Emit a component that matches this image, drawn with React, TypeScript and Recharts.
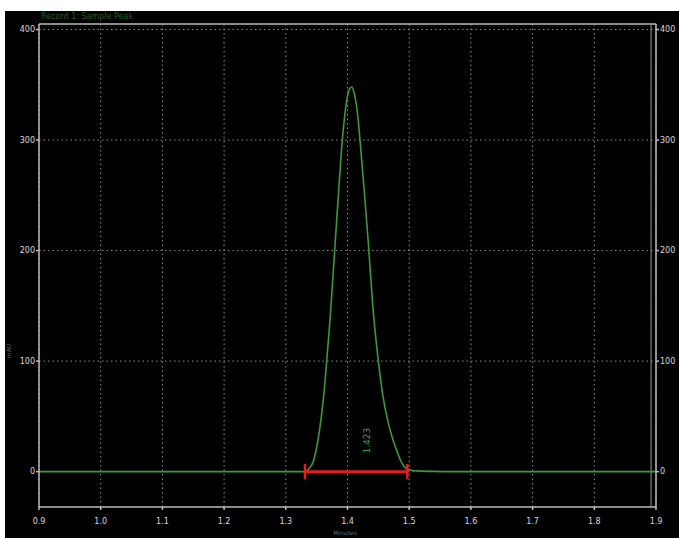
import React from 'react';
import {
  LineChart,
  Line,
  XAxis,
  YAxis,
  CartesianGrid,
  ReferenceLine,
  ReferenceDot,
} from 'recharts';

// retention time (min) and detector response
const times = [
  0.9, 1.1, 1.3, 1.331, 1.338, 1.345, 1.351, 1.357, 1.362, 1.3663, 1.372, 1.378,
  1.384, 1.3916, 1.398, 1.403, 1.4068, 1.411, 1.416, 1.4203, 1.427, 1.434, 1.441,
  1.45, 1.457, 1.4657, 1.473, 1.4798, 1.488, 1.498, 1.52, 1.6, 1.9,
];
const response = [
  0, 0, 0, 0, 3, 10, 25, 47, 72, 100, 140, 190, 240, 300, 333, 346, 348, 342, 325,
  300, 255, 205, 150, 100, 70, 45, 30, 19, 8, 2, 0.5, 0, 0,
];
const xTicks = [0.9, 1.0, 1.1, 1.2, 1.3, 1.4, 1.5, 1.6, 1.7, 1.8, 1.9];
const yTicks = [0, 100, 200, 300, 400];

// integration window for the peak
const peakStart = 1.331;
const peakEnd = 1.497;
const peakLabel = '1.423';

const data = times.map((t, i) => ({ t, v: response[i] }));

const tickStyle = { fill: '#d8d8d8', fontSize: 8, fontFamily: 'DejaVu Sans' };

export default function App() {
  return (
    <div
      style={{
        position: 'fixed',
        left: 0,
        top: 0,
        width: 679,
        height: 538,
        background: '#fff',
      }}
    >
      <div
        style={{
          position: 'absolute',
          left: 5,
          top: 11,
          width: 674,
          height: 527,
          background: '#000',
        }}
      >
        <LineChart
          width={674}
          height={527}
          data={data}
          margin={{ top: 13, right: 0, bottom: 0, left: 0 }}
        >
          <text x={36} y={8} fill="#1e5e1e" fontSize={8} fontFamily="DejaVu Sans">
            Record 1: Sample Peak
          </text>
          <text
            x={6}
            y={340}
            fill="#666"
            fontSize={6}
            fontFamily="DejaVu Sans"
            transform="rotate(-90 6 340)"
            textAnchor="middle"
          >
            mAU
          </text>
          <text x={340} y={524} fill="#666" fontSize={6} fontFamily="DejaVu Sans" textAnchor="middle">
            Minutes
          </text>
          <CartesianGrid
            yAxisId="left"
            stroke="#8a8a8a"
            strokeDasharray="1.5 3"
            horizontalValues={yTicks}
            verticalValues={xTicks}
          />
          <XAxis
            dataKey="t"
            type="number"
            domain={[0.9, 1.9]}
            ticks={xTicks}
            tickFormatter={(v: number) => v.toFixed(1)}
            height={31}
            stroke="#bbbbbb"
            strokeWidth={1.5}
            tickSize={3}
            tickMargin={8}
            tick={tickStyle}
            interval={0}
          />
          <YAxis
            yAxisId="left"
            type="number"
            domain={[-32, 405]}
            ticks={yTicks}
            allowDataOverflow
            width={34}
            stroke="#bbbbbb"
            strokeWidth={1.5}
            tickSize={3}
            tickMargin={1}
            tick={tickStyle}
          />
          <YAxis
            yAxisId="right"
            orientation="right"
            type="number"
            domain={[-32, 405]}
            ticks={yTicks}
            allowDataOverflow
            width={23}
            stroke="#bbbbbb"
            strokeWidth={1.5}
            tickSize={3}
            tickMargin={1}
            tick={tickStyle}
          />
          <ReferenceLine yAxisId="left" y={405} stroke="#bbbbbb" strokeWidth={1.5} />
          <ReferenceLine yAxisId="left" x={1.892} stroke="#999" strokeWidth={1} />
          <Line
            yAxisId="left"
            dataKey="v"
            type="monotone"
            stroke="#3a9a3a"
            strokeWidth={1.6}
            dot={false}
            isAnimationActive={false}
          />
          <ReferenceLine
            yAxisId="left"
            segment={[
              { x: peakStart, y: 0 },
              { x: peakEnd, y: 0 },
            ]}
            stroke="#e41e1e"
            strokeWidth={3}
          />
          <ReferenceLine
            yAxisId="left"
            segment={[
              { x: peakStart, y: -7 },
              { x: peakStart, y: 7 },
            ]}
            stroke="#e41e1e"
            strokeWidth={2.5}
          />
          <ReferenceLine
            yAxisId="left"
            segment={[
              { x: peakEnd, y: -7 },
              { x: peakEnd, y: 7 },
            ]}
            stroke="#e41e1e"
            strokeWidth={2.5}
          />
          <ReferenceDot
            yAxisId="left"
            x={1.432}
            y={28}
            r={0}
            shape={(p: any) => (
              <text
                x={p.cx}
                y={p.cy}
                fill="#3aa03a"
                fontSize={9}
                fontFamily="DejaVu Sans"
                textAnchor="middle"
                dominantBaseline="central"
                transform={`rotate(-90 ${p.cx} ${p.cy})`}
              >
                {peakLabel}
              </text>
            )}
          />
        </LineChart>
      </div>
    </div>
  );
}
